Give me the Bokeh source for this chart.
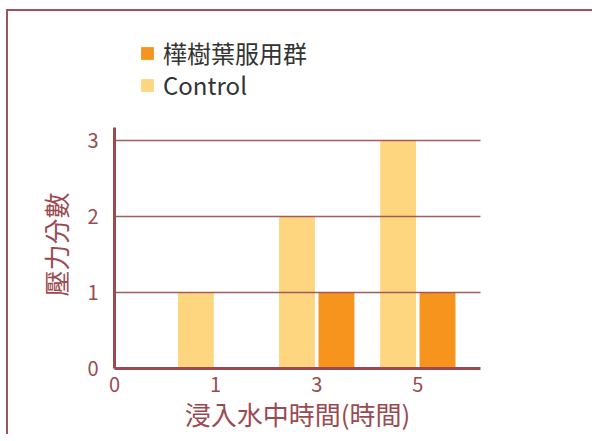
from bokeh.plotting import figure
from bokeh.models import ColumnDataSource, Range1d, FixedTicker, Legend, LegendItem, Title
from bokeh.transform import dodge
from bokeh.embed import file_html
from bokeh.resources import INLINE

# ---- data ----
categories = ["1", "3", "5"]          # immersion time (hours)
control = [1, 2, 3]
birch = [0, 1, 1]
xtick_labels = ["0", "1", "3", "5"]
ytick_values = [0, 1, 2, 3]
series_names = ["樺樹葉服用群", "Control"]

FONT = "Noto Sans CJK TC"
RED = "#9b4a51"
FRAME = "#a3525a"
C_CONTROL = "#fed680"
C_BIRCH = "#f7941e"
PX_PER_UNIT = 76

pos = list(range(1, len(categories) + 1))
src = ColumnDataSource(dict(pos=pos, cat=categories, control=control, birch=birch))

p = figure(
    frame_width=366, frame_height=356,
    min_border_left=114, min_border_right=112,
    min_border_top=12, min_border_bottom=65,
    x_range=Range1d(0, 3.62), y_range=Range1d(0, 356 / PX_PER_UNIT),
    output_backend="svg", toolbar_location=None,
    background_fill_color="white", border_fill_color=None,
)
p.styles = {"box-shadow": f"inset 6px 9px 0 0 white, inset 8px 11px 0 0 {FRAME}"}
p.outline_line_color = None

r_control = p.vbar(x=dodge("pos", -0.195), top="control", width=0.355,
                   source=src, fill_color=C_CONTROL, line_color=None)
r_birch = p.vbar(x=dodge("pos", 0.195), top="birch", width=0.355,
                 source=src, fill_color=C_BIRCH, line_color=None)

# axes
p.xaxis.ticker = FixedTicker(ticks=list(range(len(xtick_labels))))
p.xaxis.major_label_overrides = {i: lab for i, lab in enumerate(xtick_labels)}
p.yaxis.ticker = FixedTicker(ticks=ytick_values)
p.yaxis.bounds = (0, 241 / PX_PER_UNIT)

for ax in (p.xaxis, p.yaxis):
    ax.axis_line_color = RED
    ax.axis_line_width = 3
    ax.major_tick_line_color = None
    ax.minor_tick_line_color = None
    ax.major_tick_out = 0
    ax.major_tick_in = 0
    ax.major_label_text_color = RED
    ax.major_label_text_font = FONT
    ax.major_label_text_font_size = "20px"
    ax.axis_label_text_color = RED
    ax.axis_label_text_font = FONT
    ax.axis_label_text_font_size = "26px"
    ax.axis_label_text_font_style = "normal"

p.xaxis.axis_label = "浸入水中時間(時間)"
p.xaxis.major_label_standoff = 8
p.xaxis.axis_label_standoff = 0
p.yaxis.major_label_standoff = 16

# y-axis title, centred on the visible axis (not the whole frame)
ytitle = Title(text="壓力分數", align="left", offset=72, standoff=21,
               text_font=FONT, text_font_size="26px", text_color=RED,
               text_font_style="normal")
p.add_layout(ytitle, "left")

p.xgrid.visible = False
p.ygrid.ticker = FixedTicker(ticks=ytick_values)
p.ygrid.grid_line_color = RED
p.ygrid.grid_line_width = 1.3
p.ygrid.grid_line_alpha = 0.9
p.ygrid.level = "overlay"

common = dict(margin=0, padding=0, glyph_width=16, glyph_height=16,
              label_standoff=8, label_height=16, label_text_font=FONT,
              label_text_font_size="24px", label_text_color="#333333",
              border_line_color=None, background_fill_alpha=0)
leg1 = Legend(items=[LegendItem(label=series_names[0], renderers=[r_birch])],
              location=(25, 298), **common)
leg2 = Legend(items=[LegendItem(label=series_names[1], renderers=[r_control])],
              location=(25, 266), **common)
p.add_layout(leg1, "center")
p.add_layout(leg2, "center")

open("out.html", "w").write(file_html(p, INLINE))
